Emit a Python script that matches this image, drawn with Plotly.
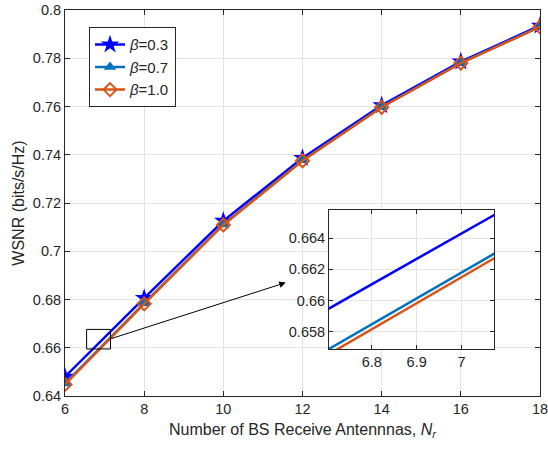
import plotly.graph_objects as go

Nr = [6, 8, 10, 12, 14, 16, 18]
wsnr_b03 = [0.6480, 0.6806, 0.7126, 0.7386, 0.7605, 0.7786, 0.7935]
wsnr_b07 = [0.6452, 0.6784, 0.7111, 0.7377, 0.7598, 0.7781, 0.7931]
wsnr_b10 = [0.6448, 0.6782, 0.7109, 0.7375, 0.7597, 0.7780, 0.7930]
names = ["<i>β</i>=0.3", "<i>β</i>=0.7", "<i>β</i>=1.0"]
colors = ["#0000FF", "#0072BD", "#D95319"]
symbols = ["star", "triangle-up", "diamond-open"]

yticks = [0.64, 0.66, 0.68, 0.70, 0.72, 0.74, 0.76, 0.78, 0.80]
yticklabels = ["0.64", "0.66", "0.68", "0.7", "0.72", "0.74", "0.76", "0.78", "0.8"]
xticks = [6, 8, 10, 12, 14, 16, 18]
inset_xticks = [6.8, 6.9, 7.0]
inset_xlabels = ["6.8", "6.9", "7"]
inset_yticks = [0.658, 0.660, 0.662, 0.664]
inset_ylabels = ["0.658", "0.66", "0.662", "0.664"]

FONT = "Liberation Sans, Arial, sans-serif"
fig = go.Figure()
series = [wsnr_b03, wsnr_b07, wsnr_b10]
for ys, nm, c, s in zip(series, names, colors, symbols):
    mk = dict(symbol=s, size=11, color=c)
    if s == "diamond-open":
        mk = dict(symbol=s, size=10, color=c, line=dict(width=2, color=c))
    elif s == "star":
        mk = dict(symbol=s, size=14, color=c, line=dict(width=0))
    fig.add_trace(go.Scatter(x=Nr, y=ys, name=nm, mode="lines+markers",
                             line=dict(color=c, width=2.5), marker=mk,
                             xaxis="x", yaxis="y"))
for ys, c in zip(series, colors):
    fig.add_trace(go.Scatter(x=Nr, y=ys, mode="lines", showlegend=False,
                             line=dict(color=c, width=2.5), xaxis="x2", yaxis="y2"))

axcol = "#262626"
L, R = 65, 540
W = 548
fig.update_layout(
    width=W, height=451,
    margin=dict(l=L, r=W - R, t=10, b=55),
    paper_bgcolor="white", plot_bgcolor="white",
    font=dict(family=FONT, size=15, color=axcol),
    xaxis=dict(domain=[0, 1], range=[6, 18], tickvals=xticks,
               showgrid=True, gridcolor="#e3e3e3", gridwidth=1,
               showline=True, linecolor=axcol, linewidth=1, mirror="ticks",
               ticks="inside", ticklen=5, tickcolor=axcol, zeroline=False,
               ticklabeloverflow="allow", automargin=False,
               tickfont=dict(size=14.5),
               title=dict(text="Number of BS Receive Antennnas, <i>N<sub>r</sub></i>",
                          font=dict(size=16), standoff=7)),
    yaxis=dict(domain=[0, 1], range=[0.64, 0.80], tickvals=yticks, ticktext=yticklabels,
               showgrid=True, gridcolor="#e3e3e3", gridwidth=1,
               showline=True, linecolor=axcol, linewidth=1, mirror="ticks",
               ticks="inside", ticklen=5, tickcolor=axcol, zeroline=False,
               automargin=False, tickfont=dict(size=14.5),
               title=dict(text="WSNR (bits/s/Hz)", font=dict(size=16), standoff=4)),
    xaxis2=dict(domain=[(329 - L) / (R - L), (494 - L) / (R - L)], anchor="y2",
                range=[6.705, 7.072],
                tickvals=inset_xticks, ticktext=inset_xlabels,
                showgrid=True, gridcolor="#e3e3e3", tickfont=dict(size=14.5),
                showline=True, linecolor=axcol, linewidth=1, mirror="ticks",
                ticks="inside", ticklen=4, tickcolor=axcol, zeroline=False),
    yaxis2=dict(domain=[0.1218, 0.4819], anchor="x2", range=[0.6569, 0.6658],
                tickvals=inset_yticks, ticktext=inset_ylabels,
                showgrid=True, gridcolor="#e3e3e3", tickfont=dict(size=14.5),
                showline=True, linecolor=axcol, linewidth=1, mirror="ticks",
                ticks="inside", ticklen=4, tickcolor=axcol, zeroline=False),
    legend=dict(x=(89 - L) / (R - L), y=0.955, xanchor="left", yanchor="top",
                bgcolor="white", bordercolor=axcol, borderwidth=1,
                font=dict(size=15), tracegroupgap=0, itemwidth=30),
    showlegend=True,
)
fig.add_shape(type="rect", xref="x", yref="y", x0=6.546, x1=7.15, y0=0.6595, y1=0.6676,
              line=dict(color="black", width=1), fillcolor="rgba(0,0,0,0)")
fig.add_annotation(xref="x", yref="y", axref="x", ayref="y",
                   x=11.577, y=0.687, ax=7.132, ay=0.6636,
                   showarrow=True, arrowhead=2, arrowsize=1.3, arrowwidth=1,
                   arrowcolor="black", text="")
fig.write_html("out.html")
